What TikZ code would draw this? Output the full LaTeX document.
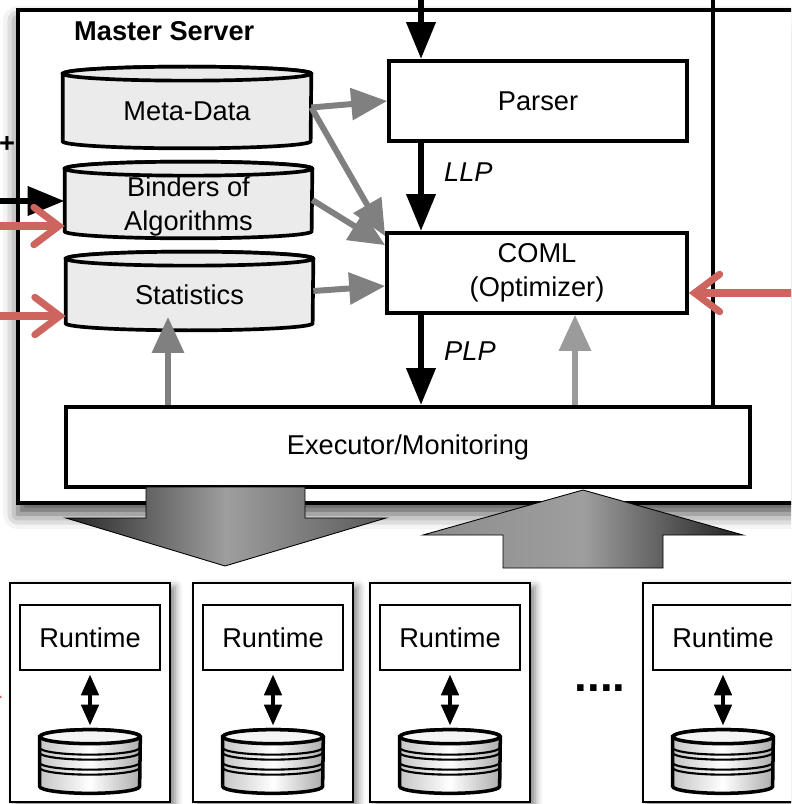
\documentclass[tikz,border=0pt]{standalone}
\usepackage{fontspec}
\setmainfont{Liberation Sans}
\usetikzlibrary{arrows.meta,positioning,fit,shadows.blur}
\definecolor{drumfill}{RGB}{235,235,235}
\definecolor{linkgray}{RGB}{128,128,128}
\definecolor{feedgray}{RGB}{155,155,155}
\definecolor{feedred}{RGB}{205,100,94}
\newcommand{\diagfont}{\fontsize{15.5}{19}\selectfont}
\tikzset{
    % boxes
    masterbox/.style={
        rectangle, draw, line width=2.4pt, fill=white, inner sep=0pt,
        blur shadow={shadow xshift=0pt, shadow yshift=-0.22cm,
            shadow blur radius=0.3cm, shadow opacity=70}
    },
    procbox/.style={
        rectangle, draw, line width=2.1pt, fill=white,
        font=\diagfont, align=center, inner sep=2pt
    },
    workerbox/.style={
        rectangle, draw, line width=1.2pt, fill=white,
        minimum width=3.2cm, minimum height=4.38cm,
        blur shadow={shadow xshift=0.1cm, shadow yshift=-0.08cm,
            shadow blur radius=0.15cm, shadow opacity=50}
    },
    runtimebox/.style={
        rectangle, draw, line width=1.5pt, fill=white,
        minimum width=2.8cm, minimum height=1.3cm, font=\diagfont
    },
    drumbody/.style={rectangle, inner sep=0pt},
    drumline/.style={draw, line width=2.1pt, fill=drumfill},
    drumtext/.style={font=\diagfont, align=center},
    stackline/.style={draw, line width=2pt},
    stackgap/.style={line width=1.2pt},
    titletext/.style={font=\bfseries\diagfont},
    flowlabel/.style={font=\itshape\diagfont, anchor=west, xshift=0.28cm},
    % connectors
    frameline/.style={line width=2.4pt},
    blackarrow/.style={line width=3.8pt, -{Triangle[length=0.74cm, width=0.56cm]}},
    linkarrow/.style={line width=3.4pt, color=linkgray, -{Triangle[length=0.72cm, width=0.62cm]}},
    feedarrow/.style={line width=3.4pt, color=feedgray, -{Triangle[length=0.72cm, width=0.62cm]}},
    redarrow/.style={line width=4pt, color=feedred, line cap=round,
        -{Straight Barb[length=0.5cm, width=0.75cm, line cap=round]}},
    bothways/.style={line width=2.6pt,
        {Triangle[length=0.42cm, width=0.34cm]}-{Triangle[length=0.42cm, width=0.34cm]}},
    blockarrow/.style={draw=black, line width=0.5pt}
}
% cylinder with its text
\newcommand{\dbdrum}[6]{%
    \node[drumbody, minimum width=#3, minimum height=#4] (#1) at (#2) {};
    \path[drumline] (#1.north west) -- (#1.south west)
        arc[start angle=180, end angle=360, x radius=#3/2, y radius=0.14cm]
        -- (#1.north east)
        arc[start angle=0, end angle=180, x radius=#3/2, y radius=0.14cm] -- cycle;
    \path[drumline] (#1.north) ellipse[x radius=#3/2, y radius=0.14cm];
    \node[drumtext] at ([yshift=#6]#1.center) {#5};
}
% stacked disks of a worker
\newcommand{\diskstack}[2]{%
    \node[drumbody, minimum width=2cm, minimum height=0.98cm] (#1) at (#2) {};
    \path[stackline, left color=gray!45, right color=gray!65, middle color=white]
        (#1.north west) -- (#1.south west)
        arc[start angle=180, end angle=360, x radius=1cm, y radius=0.14cm]
        -- (#1.north east)
        arc[start angle=0, end angle=180, x radius=1cm, y radius=0.14cm] -- cycle;
    \path[stackline, fill=gray!8] (#1.north) ellipse[x radius=1cm, y radius=0.14cm];
    \foreach \s in {0.22,0.32,0.52,0.62}
        \draw[stackgap] ([yshift=-\s cm]#1.north west)
            arc[start angle=180, end angle=360, x radius=1cm, y radius=0.14cm];
}

\begin{document}
\begin{tikzpicture}[x=0.02cm, y=-0.02cm]
\useasboundingbox (0,0) rectangle (791,804);
\clip (0,0) rectangle (791,804);

% master server
\node[masterbox, fit={(18,10) (1000,503)}] (master) {};
\node[titletext, anchor=west] (mastertitle) at (68,31) {Master Server};

\node[procbox, minimum width=5.96cm, minimum height=1.6cm] (parser) at (538,101) {Parser};
\node[procbox, minimum width=6cm, minimum height=1.6cm] (coml) at (537,273) {COML\\(Optimizer)};
\node[procbox, minimum width=13.68cm, minimum height=1.6cm] (exec) at (408,447) {Executor/Monitoring};

\coordinate (divtop) at (713,-10);
\draw[frameline] (divtop) -- (divtop |- exec.north);

\dbdrum{meta}{187,107.5}{4.96cm}{1.34cm}{Meta-Data}{-0.07cm}
\dbdrum{binders}{188.5,200}{4.94cm}{1.24cm}{Binders of\\Algorithms}{-0.13cm}
\dbdrum{stats}{189.5,291}{4.94cm}{1.28cm}{Statistics}{-0.08cm}

% plan flow
\coordinate (topin) at (421,-10);
\draw[blackarrow] (topin) -- (topin |- parser.north);
\draw[blackarrow] (parser.south -| topin) -- (coml.north -| topin)
    node[flowlabel, pos=0.33] {LLP};
\draw[blackarrow] (coml.south -| topin) -- (exec.north -| topin)
    node[flowlabel, pos=0.4] {PLP};

% catalog links
\draw[linkarrow] (meta.east) -- (parser.west);
\draw[linkarrow] (meta.east) -- ([yshift=-0.1cm]coml.north west);
\draw[linkarrow] (binders.east) -- ([yshift=-0.28cm]coml.north west);
\draw[linkarrow] (stats.east) -- ([yshift=-0.26cm]coml.west);
\coordinate (statsup) at (168,0);
\coordinate (comlup) at (575,0);
\draw[linkarrow, shorten >=-0.13cm] (exec.north -| statsup) -- (stats.south -| statsup);
\draw[feedarrow] (exec.north -| comlup) -- (coml.south -| comlup);

% inputs from outside
\coordinate (algin) at (-10,201);
\coordinate (algfb) at (-10,226);
\coordinate (statfb) at (-10,316);
\coordinate (costfb) at (810,293);
\draw[blackarrow] (algin) -- (algin -| binders.west);
\draw[redarrow] (algfb) -- (algfb -| binders.west);
\draw[redarrow] (statfb) -- (statfb -| stats.west);
\draw[redarrow] (costfb) -- (costfb -| coml.east);
\node[titletext] (plus) at (7,145) {+};

% block arrows to and from the workers
\path[blockarrow, left color=black!85, right color=black!65, middle color=black!38]
    (146,487) -- (305,487) -- (305,518) -- (386,518) -- (225,566)
    -- (66,518) -- (146,518) -- cycle;
\path[blockarrow, left color=black!45, right color=black!88, middle color=black!38]
    (503,568) -- (503,535) -- (423,535) -- (583,490) -- (743,535)
    -- (663,535) -- (663,568) -- cycle;

% workers
\foreach \i/\x in {1/90, 2/273, 3/450, 4/723} {
    \node[workerbox] (w\i) at (\x,692.5) {};
    \node[runtimebox] (rt\i) at (\x,637.5) {Runtime};
    \diskstack{db\i}{\x,761.5}
    \draw[bothways, shorten <=0.06cm, shorten >=0.22cm] (rt\i.south) -- (db\i.north);
}
\node[font=\bfseries\fontsize{26}{26}\selectfont, anchor=base] (more) at (600,691) {....};

\coordinate (nodefb) at (-40,697);
\draw[redarrow] (nodefb) -- ([xshift=-0.14cm]nodefb -| w1.west);

\end{tikzpicture}
\end{document}
